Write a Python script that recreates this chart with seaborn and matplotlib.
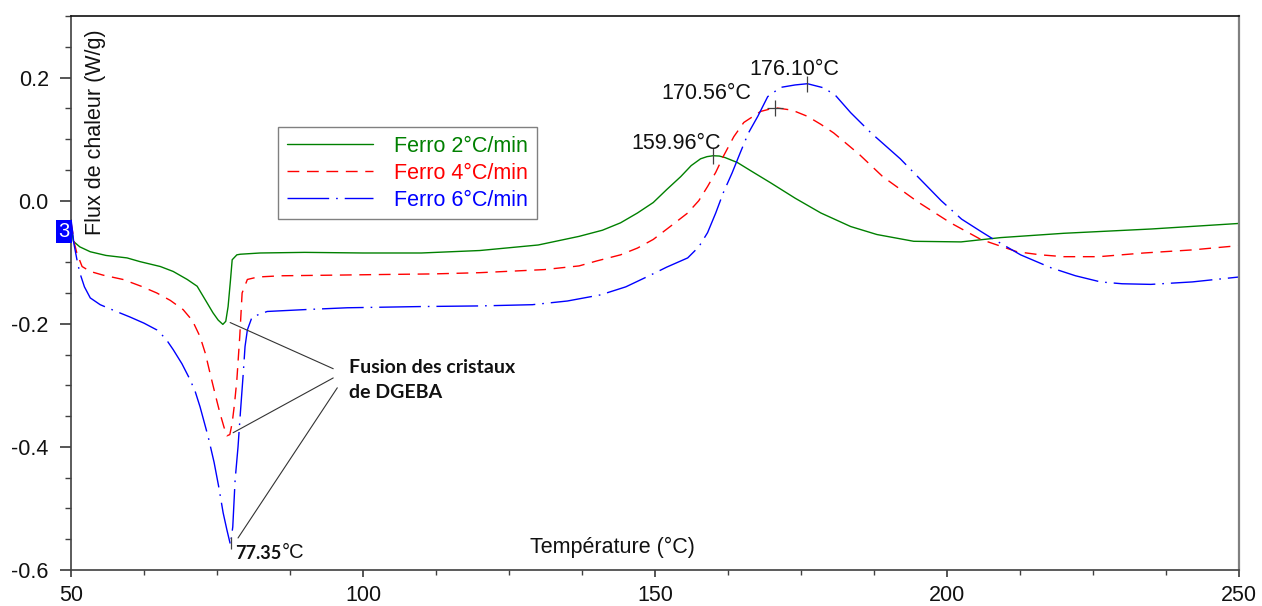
import numpy as np
import pandas as pd
import matplotlib
matplotlib.use("Agg")
import matplotlib.pyplot as plt
from matplotlib.ticker import MultipleLocator, FormatStrFormatter
import seaborn as sns

# ---------------- data ----------------
green_T = [50.0, 50.2, 50.4, 51.5, 53.3, 56.0, 59.6, 61.8, 65.3, 67.5, 69.9, 71.6, 73.3, 74.3,
           75.2, 76.0, 76.5, 76.9, 77.3, 77.6, 78.4, 79.0, 82.4, 90, 100, 110, 120, 130, 137,
           141, 144.1, 147, 149.7, 152, 154.4, 156.2, 157.8, 158.9, 159.96, 161, 162, 164.1,
           166.5, 169.8, 174, 178.4, 183.5, 188, 194.3, 202.4, 209.2, 220, 235, 250]
green_v = [-0.045, -0.052, -0.066, -0.075, -0.083, -0.089, -0.093, -0.099, -0.107, -0.115,
           -0.128, -0.139, -0.166, -0.182, -0.194, -0.201, -0.196, -0.172, -0.13, -0.096,
           -0.088, -0.087, -0.085, -0.084, -0.085, -0.085, -0.081, -0.072, -0.058, -0.048,
           -0.036, -0.020, -0.003, 0.018, 0.039, 0.057, 0.068, 0.0715, 0.073, 0.0725, 0.070,
           0.062, 0.048, 0.029, 0.004, -0.020, -0.042, -0.055, -0.066, -0.067, -0.060, -0.053,
           -0.046, -0.037]

red_T = [50.0, 50.3, 50.6, 51.0, 51.9, 53.3, 55.5, 58.9, 62, 64.7, 67, 69.2, 70.8, 72.1, 73.0,
         73.8, 74.7, 75.5, 76.2, 76.7, 77.2, 77.6, 78.0, 78.4, 78.9, 79.3, 80.2, 82, 86, 95,
         103, 112, 120, 131, 137, 140, 144.1, 147, 149.7, 152.6, 155.6, 157.5, 159, 160.4,
         161.7, 163.5, 165.2, 168.1, 170.56, 173.5, 176.1, 178.4, 180.6, 185, 189, 195, 200.6,
         205.8, 212, 216, 220, 226, 233.7, 242, 250]
red_v = [-0.035, -0.052, -0.070, -0.085, -0.107, -0.115, -0.121, -0.128, -0.139, -0.150,
         -0.162, -0.177, -0.195, -0.221, -0.248, -0.280, -0.315, -0.345, -0.368, -0.382,
         -0.380, -0.361, -0.330, -0.291, -0.220, -0.150, -0.128, -0.124, -0.122, -0.121,
         -0.120, -0.119, -0.117, -0.112, -0.106, -0.098, -0.088, -0.077, -0.063, -0.042,
         -0.020, 0.000, 0.023, 0.046, 0.072, 0.104, 0.127, 0.145, 0.151, 0.147, 0.137, 0.124,
         0.110, 0.075, 0.039, -0.002, -0.036, -0.063, -0.083, -0.088, -0.091, -0.091, -0.085,
         -0.080, -0.073]

blue_T = [50.0, 50.2, 50.5, 51.0, 51.5, 52.3, 53.3, 55, 57.5, 60.1, 62.5, 64.7, 66.2, 67.5, 69,
          70.4, 71.3, 72.1, 73.5, 74.5, 75.3, 76.05, 76.7, 77.3, 77.7, 78.1, 78.6, 79.0, 79.5,
          79.8, 80.2, 81, 83.6, 90, 97.3, 110, 120, 129, 135, 140.7, 145, 149, 152, 155.6,
          157.5, 159, 160.4, 161.7, 163.2, 164.6, 166, 167.6, 169.3, 171.5, 174, 176.1, 179,
          181, 183.5, 187, 192, 195.5, 199, 202.5, 205.8, 207.5, 212.6, 217.8, 222, 226.3,
          230, 234.9, 242, 250]
blue_v = [-0.030, -0.045, -0.070, -0.095, -0.117, -0.140, -0.158, -0.169, -0.179, -0.189,
          -0.199, -0.210, -0.224, -0.242, -0.265, -0.291, -0.311, -0.335, -0.384, -0.425,
          -0.465, -0.507, -0.535, -0.559, -0.530, -0.454, -0.400, -0.345, -0.280, -0.237,
          -0.210, -0.189, -0.180, -0.177, -0.174, -0.172, -0.171, -0.169, -0.163, -0.153,
          -0.140, -0.122, -0.108, -0.093, -0.075, -0.052, -0.020, 0.013, 0.045, 0.078, 0.110,
          0.137, 0.169, 0.184, 0.188, 0.190, 0.183, 0.170, 0.143, 0.110, 0.068, 0.034, 0.000,
          -0.030, -0.050, -0.060, -0.088, -0.109, -0.122, -0.132, -0.135, -0.136, -0.132,
          -0.124]

series_labels = ["Ferro 2°C/min", "Ferro 4°C/min", "Ferro 6°C/min"]
peak_T = [159.96, 170.56, 176.10]
peak_labels = ["159.96°C", "170.56°C", "176.10°C"]
min_T = 77.35
min_label = "77.35"
x_ticks = [50, 100, 150, 200, 250]
y_ticks = [-0.6, -0.4, -0.2, 0.0, 0.2]

# ---------------- styling ----------------
sns.set_theme(style="ticks")
plt.rcParams["font.family"] = ["Liberation Sans", "DejaVu Sans"]
plt.rcParams["axes.unicode_minus"] = False

colors = ["#008000", "#FF0000", "#0000FF"]
styles = ["-", (0, (8.5, 5.5)), (0, (30, 5, 1.2, 5))]

fig = plt.figure(figsize=(12.62, 6.06), dpi=100)
ax = fig.add_axes([71 / 1262, 1 - 570 / 606, (1239 - 71) / 1262, (570 - 16) / 606])

frames = [
    pd.DataFrame({"T": green_T, "v": green_v}),
    pd.DataFrame({"T": red_T, "v": red_v}),
    pd.DataFrame({"T": blue_T, "v": blue_v}),
]
for df, c, ls, lab in zip(frames, colors, styles, series_labels):
    sns.lineplot(data=df, x="T", y="v", color=c, linestyle=ls, linewidth=1.0,
                 label=lab, sort=False, estimator=None, ax=ax)

ax.set_xlim(50, 250)
ax.set_ylim(-0.6, 0.3)
ax.set_xticks(x_ticks)
ax.set_yticks(y_ticks)
ax.xaxis.set_minor_locator(MultipleLocator(12.5))
ax.yaxis.set_minor_locator(MultipleLocator(0.05))
ax.yaxis.set_major_formatter(FormatStrFormatter("%.1f"))
ax.set_xlabel("")
ax.set_ylabel("")
ax.tick_params(axis="both", which="major", labelsize=15.5, color="#404040",
               labelcolor="#111111", direction="out")
ax.tick_params(axis="y", which="major", length=8, pad=8)
ax.tick_params(axis="y", which="minor", length=4, color="#404040")
ax.tick_params(axis="x", which="major", length=5, pad=6)
ax.tick_params(axis="x", which="minor", length=3.5, color="#404040")

for side in ["left", "bottom"]:
    ax.spines[side].set_color("#404040")
    ax.spines[side].set_linewidth(1.2)
ax.spines["top"].set_color("#111111")
ax.spines["top"].set_linewidth(1.2)
ax.spines["right"].set_color("#808080")
ax.spines["right"].set_linewidth(1.6)

# axis titles drawn inside the axes
ax.text((96 - 71) / 1168, (570 - 235) / 554, "Flux de chaleur (W/g)", rotation=90,
        transform=ax.transAxes, ha="center", va="bottom", fontsize=15.5, color="#111111")
ax.text((612 - 71) / 1168, (570 - 547) / 554, "Température (°C)",
        transform=ax.transAxes, ha="center", va="center", fontsize=15.5, color="#111111")

# legend
leg = ax.legend(loc="upper left", bbox_to_anchor=((278 - 71) / 1168, (570 - 127) / 554),
                borderaxespad=0, fontsize=15.5, handlelength=4.0, handletextpad=1.0,
                labelspacing=0.28, borderpad=0.4, fancybox=False, framealpha=1,
                edgecolor="#808080", labelcolor="linecolor")
leg.get_frame().set_linewidth(1.0)

# peak markers + labels
series_T = [green_T, red_T, blue_T]
series_v = [green_v, red_v, blue_v]
peak_markers = ["|", "+", "|"]
label_offsets = [(-26.5, 4.5), (-49.5, 6.5), (-9.5, 6.0)]
for sT, sv, pT, plab, mk, off in zip(series_T, series_v, peak_T, peak_labels,
                                      peak_markers, label_offsets):
    pv = float(np.interp(pT, sT, sv))
    ax.plot([pT], [pv], marker=mk, markersize=11, color="#404040",
            markeredgewidth=0.9, linestyle="none")
    ax.annotate(plab, xy=(pT, pv), xytext=off, textcoords="offset points",
                ha="center", va="baseline", fontsize=15.5, color="#111111")

# blue minimum marker + label
min_v = float(np.interp(min_T, blue_T, blue_v))
ax.plot([min_T], [min_v], marker="|", markersize=8, color="#404040",
        markeredgewidth=0.9, linestyle="none")
t77 = ax.annotate(min_label, xy=(min_T, min_v), xytext=(3.2, -11.5),
                  textcoords="offset points", ha="left", va="baseline",
                  fontsize=13, fontweight="bold", family=["Lato", "DejaVu Sans"],
                  color="#111111")
ax.annotate("°C", xy=(1, 0), xycoords=t77, xytext=(0.5, 0), textcoords="offset points",
            ha="left", va="bottom", fontsize=14.5, color="#111111")

# "Fusion des cristaux de DGEBA" text with leader lines
ax.text(97.6, -0.2797, "Fusion des cristaux", ha="left", va="baseline", fontsize=14,
        fontweight="bold", family=["Lato", "DejaVu Sans"], color="#111111")
ax.text(97.6, -0.3206, "de DGEBA", ha="left", va="baseline", fontsize=14,
        fontweight="bold", family=["Lato", "DejaVu Sans"], color="#111111")
leader_from = [(94.9, -0.273), (94.9, -0.288), (95.6, -0.304)]
leader_to = [(77.25, -0.198), (77.76, -0.377), (78.6, -0.548)]
for (x0, y0), (x1, y1) in zip(leader_from, leader_to):
    ax.annotate("", xy=(x1, y1), xytext=(x0, y0),
                arrowprops=dict(arrowstyle="-", color="#333333", lw=0.8,
                                shrinkA=0, shrinkB=0))

# blue "3" badge at the start of the curves
ax.annotate("3", xy=(50, -0.050), xytext=(-5.2, 0), textcoords="offset points",
            ha="center", va="center", fontsize=14.5, color="white",
            bbox=dict(boxstyle="square,pad=0.12", fc="#0000FF", ec="none"),
            annotation_clip=False)

fig.savefig("out.png", dpi=100)
